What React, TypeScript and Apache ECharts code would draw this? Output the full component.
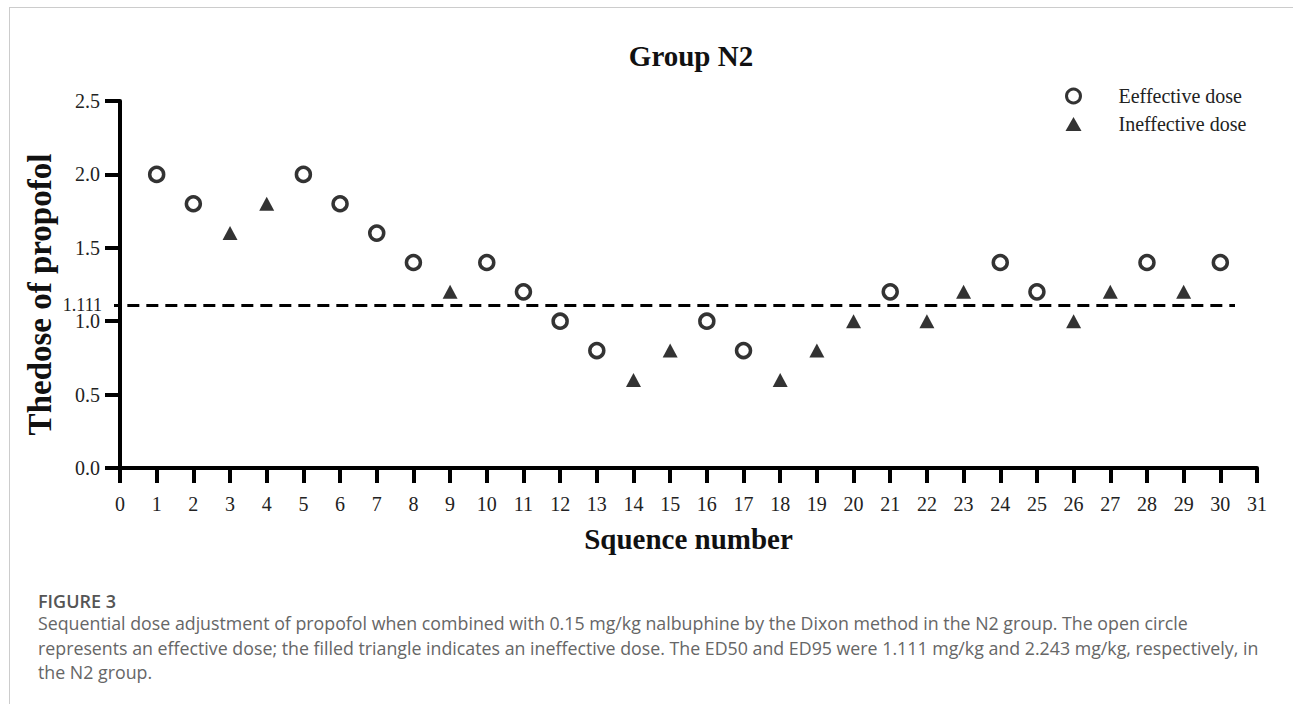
import React, { useEffect, useRef } from "react";
import * as echarts from "echarts";

const sequenceNumbers = [1,2,3,4,5,6,7,8,9,10,11,12,13,14,15,16,17,18,19,20,21,22,23,24,25,26,27,28,29,30];
const doses = [2.0,1.8,1.6,1.8,2.0,1.8,1.6,1.4,1.2,1.4,1.2,1.0,0.8,0.6,0.8,1.0,0.8,0.6,0.8,1.0,1.2,1.0,1.2,1.4,1.2,1.0,1.2,1.4,1.2,1.4];
const outcomes = ["E","E","I","I","E","E","E","E","I","E","E","E","E","I","I","E","E","I","I","I","E","I","I","E","E","I","I","E","I","E"];
const ed50 = 1.111;
const ed50LineRange = [0.2, 30.4];
const xTickRange = [0, 31];
const yTickRange = [0, 2.5];

const titleText = "Group N2";
const xName = "Squence number";
const yName = "Thedose of propofol";
const seriesNames = ["Eeffective dose", "Ineffective dose"];
const figureLabel = "FIGURE 3";
const captionLines = [
  "Sequential dose adjustment of propofol when combined with 0.15 mg/kg nalbuphine by the Dixon method in the N2 group. The open circle",
  "represents an effective dose; the filled triangle indicates an ineffective dose. The ED50 and ED95 were 1.111 mg/kg and 2.243 mg/kg, respectively, in",
  "the N2 group.",
];

const SERIF = '"Liberation Serif", "Times New Roman", serif';
const SANS = '"Open Sans", Lato, sans-serif';

export default function App() {
  const ref = useRef<HTMLDivElement>(null);
  useEffect(() => {
    if (!ref.current) return;
    const chart = echarts.init(ref.current, null, { renderer: "svg" });
    const rows = sequenceNumbers.map((s, i) => ({ s, d: doses[i], o: outcomes[i] }));
    const effective = rows.filter((r) => r.o === "E").map((r) => [r.s, r.d]);
    const ineffective = rows.filter((r) => r.o === "I").map((r) => [r.s, r.d]);

    chart.setOption({
      animation: false,
      backgroundColor: "#fff",
      title: {
        text: titleText,
        left: 686,
        top: 36,
        textAlign: "center",
        textStyle: { fontFamily: SERIF, fontSize: 29, fontWeight: "bold", color: "#111" },
      },
      legend: {
        orient: "vertical",
        left: 1060,
        top: 81,
        itemWidth: 16,
        itemHeight: 14,
        itemGap: 8,
        data: [
          { name: seriesNames[0], itemStyle: { color: "#fff", borderColor: "#000", borderWidth: 3 } },
          { name: seriesNames[1], itemStyle: { color: "#000" } },
        ],
        textStyle: { fontFamily: SERIF, fontSize: 20, color: "#222", padding: [0, 0, 0, 32] },
      },
      grid: { left: 120, right: 36, top: 101, bottom: 236, containLabel: false },
      xAxis: {
        type: "value",
        min: xTickRange[0],
        max: xTickRange[1],
        interval: 1,
        name: xName,
        nameLocation: "middle",
        nameGap: 56,
        nameTextStyle: { fontFamily: SERIF, fontSize: 29, fontWeight: "bold", color: "#111" },
        axisLine: { show: true, lineStyle: { color: "#000", width: 4 } },
        axisTick: { show: true, length: 15, lineStyle: { color: "#000", width: 4 } },
        axisLabel: { fontFamily: SERIF, fontSize: 20, color: "#222", margin: 26 },
        splitLine: { show: false },
      },
      yAxis: [
        {
          type: "value",
          min: yTickRange[0],
          max: yTickRange[1],
          interval: 0.5,
          name: yName,
          nameLocation: "middle",
          nameRotate: 90,
          nameGap: 64,
          nameTextStyle: {
            fontFamily: SERIF,
            fontSize: 33,
            fontWeight: "bold",
            color: "#111",
            padding: [0, 20, 0, 0],
          },
          axisLine: { show: true, lineStyle: { color: "#000", width: 4 } },
          axisTick: { show: true, length: 15, lineStyle: { color: "#000", width: 4 } },
          axisLabel: {
            fontFamily: SERIF,
            fontSize: 20,
            color: "#222",
            margin: 20,
            formatter: (v: number) => v.toFixed(1),
          },
          splitLine: { show: false },
        },
        {
          type: "value",
          position: "left",
          min: yTickRange[0],
          max: yTickRange[1],
          axisLine: { show: false },
          axisTick: { show: true, length: 6, customValues: [ed50], lineStyle: { color: "#000", width: 3 } },
          axisLabel: {
            show: true,
            customValues: [ed50],
            fontFamily: SERIF,
            fontSize: 18,
            color: "#222",
            margin: 18,
            formatter: (v: number) => String(v),
          },
          splitLine: { show: false },
        },
      ],
      series: [
        {
          name: seriesNames[0],
          type: "scatter",
          symbol: "circle",
          symbolSize: 14,
          itemStyle: { color: "#fff", borderColor: "#000", borderWidth: 3.5 },
          data: effective,
          markLine: {
            silent: true,
            symbol: "none",
            label: { show: false },
            lineStyle: { color: "#000", width: 3, type: [12, 7] },
            data: [[{ coord: [ed50LineRange[0], ed50] }, { coord: [ed50LineRange[1], ed50] }]],
          },
        },
        {
          name: seriesNames[1],
          type: "scatter",
          symbol: "triangle",
          symbolSize: [15, 14],
          itemStyle: { color: "#000" },
          data: ineffective,
        },
      ],
      graphic: [
        { type: "line", shape: { x1: 9, y1: 7.5, x2: 1293, y2: 7.5 }, style: { stroke: "#cccccc", lineWidth: 1 } },
        { type: "line", shape: { x1: 9.5, y1: 7, x2: 9.5, y2: 704 }, style: { stroke: "#cccccc", lineWidth: 1 } },
        {
          type: "text",
          left: 38,
          top: 592,
          style: { text: figureLabel, fontFamily: SANS, fontSize: 18, fontWeight: 600, fill: "#555" },
        },
        ...captionLines.map((line, i) => ({
          type: "text",
          left: 38,
          top: 614 + i * 24.5,
          style: { text: line, fontFamily: SANS, fontSize: 17.8, fill: "#666" },
        })),
      ],
    });
    return () => chart.dispose();
  }, []);
  return <div ref={ref} style={{ position: "absolute", left: 0, top: 0, width: 1293, height: 704 }} />;
}
